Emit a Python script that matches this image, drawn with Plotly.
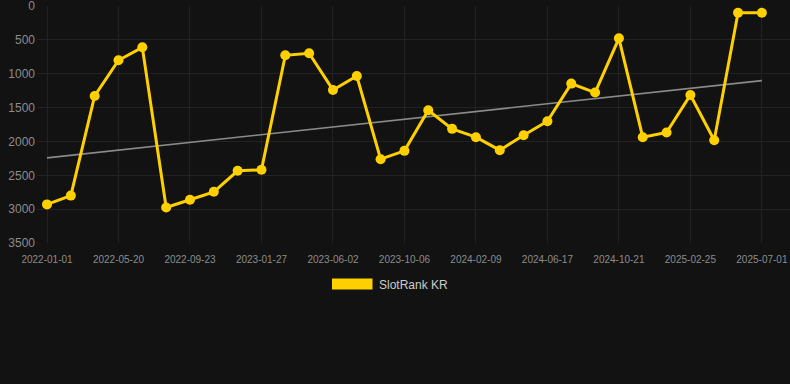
import plotly.graph_objects as go

dates = ["2022-01-01", "2022-02-16", "2022-04-03", "2022-05-20", "2022-07-01", "2022-08-12",
         "2022-09-23", "2022-11-04", "2022-12-16", "2023-01-27", "2023-03-10", "2023-04-21",
         "2023-06-02", "2023-07-14", "2023-08-25", "2023-10-06", "2023-11-17", "2023-12-29",
         "2024-02-09", "2024-03-22", "2024-05-04", "2024-06-17", "2024-07-29", "2024-09-09",
         "2024-10-21", "2024-12-02", "2025-01-13", "2025-02-25", "2025-04-08", "2025-05-20",
         "2025-07-01"]
rank = [2930, 2800, 1328, 801, 610, 2975, 2862, 2744, 2434, 2419, 728, 698, 1239, 1033, 2262,
        2139, 1539, 1814, 1937, 2129, 1908, 1701, 1146, 1278, 477, 1937, 1868, 1313, 1982, 98, 98]
trend_x = ["2022-01-01", "2025-07-01"]
trend_y = [2242, 1102]
tick_labels = ["2022-01-01", "2022-05-20", "2022-09-23", "2023-01-27", "2023-06-02", "2023-10-06",
               "2024-02-09", "2024-06-17", "2024-10-21", "2025-02-25", "2025-07-01"]
y_ticks = [0, 500, 1000, 1500, 2000, 2500, 3000, 3500]
series_name = "SlotRank KR"

YELLOW = "#FFD000"
BG = "#121212"
FONT = "Arial, Liberation Sans, sans-serif"

fig = go.Figure()
fig.add_trace(go.Scatter(x=trend_x, y=trend_y, mode="lines",
                         line=dict(color="#8a8a8a", width=1.6),
                         showlegend=False, hoverinfo="skip"))
fig.add_trace(go.Scatter(x=dates, y=rank, mode="lines+markers", name=series_name,
                         line=dict(color=YELLOW, width=3),
                         marker=dict(color=YELLOW, size=10),
                         showlegend=False, cliponaxis=False))

L, R, T, B = 37, 0, 6, 141
W, H = 790, 384
pw = W - L - R
ph = H - T - B

fig.update_layout(
    width=W, height=H,
    margin=dict(l=L, r=R, t=T, b=B, pad=0),
    paper_bgcolor=BG, plot_bgcolor=BG,
    font=dict(family=FONT, color="#999999"),
    showlegend=False,
    xaxis=dict(type="category", categoryorder="array", categoryarray=dates,
               range=[-0.42, 31.18], tickvals=tick_labels, ticktext=tick_labels,
               tickfont=dict(size=10, color="#8c8c8c"), showgrid=True,
               gridcolor="#222222", gridwidth=1, zeroline=False, showline=False,
               ticks="", tickangle=0, ticklabelstandoff=9, ticklabeloverflow="allow"),
    yaxis=dict(range=[3500, -0.5], tickvals=y_ticks, tickfont=dict(size=12, color="#8c8c8c"),
               showgrid=True, gridcolor="#222222", gridwidth=1, zeroline=False,
               showline=False, ticks="", ticklabelstandoff=1, ticklabeloverflow="allow"),
)

# legend drawn in paper coordinates
def px_x(p):
    return (p - L) / pw

def px_y(p):
    return (H - B - p) / ph

fig.add_shape(type="rect", xref="paper", yref="paper",
              x0=px_x(332), x1=px_x(372.5), y0=px_y(278.5), y1=px_y(289.5),
              fillcolor=YELLOW, line=dict(width=0))
fig.add_annotation(xref="paper", yref="paper", x=px_x(377), y=px_y(284.5),
                   xanchor="left", yanchor="middle", text=series_name, showarrow=False,
                   font=dict(size=12, color="#cccccc", family=FONT))

fig.write_html("out.html", config={"displayModeBar": False},
               post_script="document.body.style.margin='0';document.body.style.background='#121212';")
